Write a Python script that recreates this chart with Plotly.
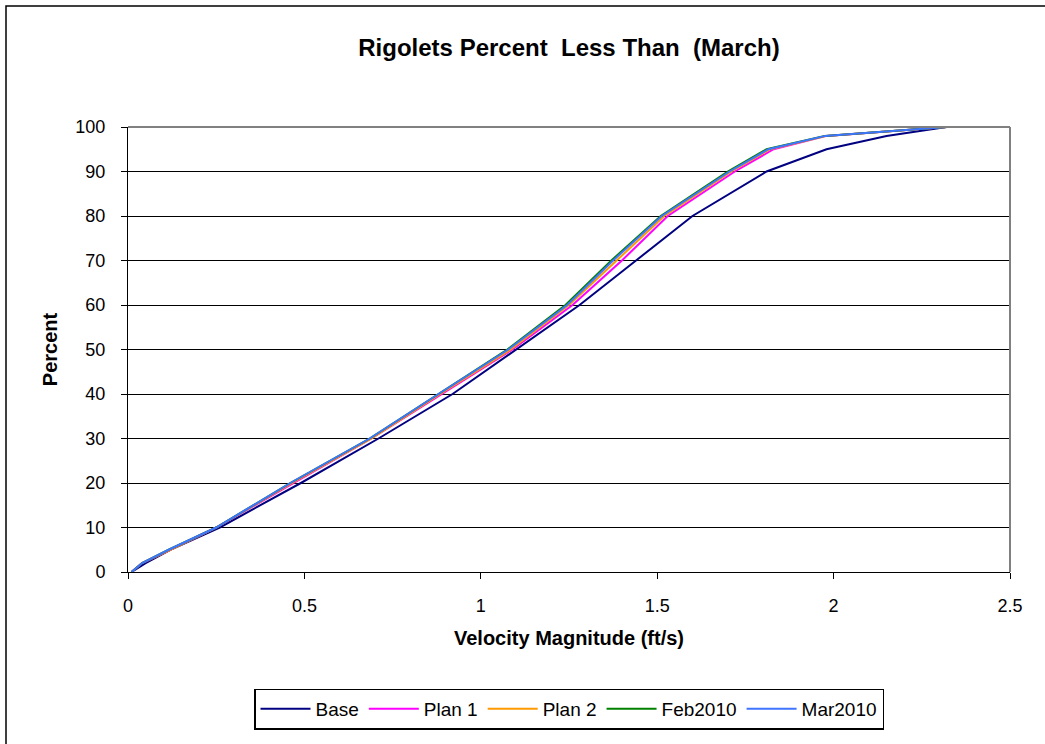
import plotly.graph_objects as go

percent = [0, 2, 5, 10, 20, 30, 40, 50, 60, 70, 80, 90, 95, 98, 100]

base = [0.01, 0.05, 0.12, 0.26, 0.49, 0.71, 0.92, 1.10, 1.28, 1.44, 1.60, 1.81, 1.98, 2.15, 2.32]
plan1 = [0.01, 0.04, 0.12, 0.25, 0.47, 0.69, 0.89, 1.09, 1.26, 1.40, 1.53, 1.72, 1.83, 1.98, 2.32]
plan2 = [0.01, 0.04, 0.12, 0.25, 0.465, 0.69, 0.885, 1.085, 1.25, 1.385, 1.52, 1.71, 1.82, 1.98, 2.32]
feb2010 = [0.01, 0.04, 0.115, 0.25, 0.46, 0.685, 0.88, 1.075, 1.24, 1.37, 1.51, 1.70, 1.81, 1.975, 2.32]
mar2010 = [0.01, 0.04, 0.115, 0.25, 0.46, 0.685, 0.88, 1.078, 1.245, 1.375, 1.513, 1.705, 1.815, 1.976, 2.32]

names = ["Base", "Plan 1", "Plan 2", "Feb2010", "Mar2010"]
colors = ["#000080", "#FF00FF", "#FF9900", "#008000", "#3F74FF"]
series = [base, plan1, plan2, feb2010, mar2010]

FONT = "Liberation Sans, Arial, sans-serif"

fig = go.Figure()
for name, color, xs in zip(names, colors, series):
    fig.add_trace(go.Scatter(x=xs, y=percent, mode="lines", name=name,
                             line=dict(color=color, width=2)))

W, H = 1045, 744
L, R, T, B = 128, 1010, 127, 572
pw, ph = R - L, B - T

def px(xp):
    return (xp - L) / pw

def py(yp):
    return (B - yp) / ph

fig.update_layout(
    width=W, height=H,
    margin=dict(l=L, r=W - R, t=T, b=H - B),
    paper_bgcolor="white", plot_bgcolor="white",
    font=dict(family=FONT, size=18, color="black"),
    title=dict(text="<b>Rigolets Percent\u00a0 Less Than\u00a0 (March)</b>",
               x=0.5, xref="paper", xanchor="center",
               y=1 - 48 / H, yanchor="middle",
               font=dict(family=FONT, size=24, color="black")),
    xaxis=dict(range=[0, 2.5], dtick=0.5, tick0=0, showgrid=False,
               showline=True, linecolor="black", linewidth=1,
               ticks="outside", ticklen=6, tickcolor="black",
               ticklabelstandoff=11,
               zeroline=False, fixedrange=True,
               tickfont=dict(size=18),
               title=dict(text="<b>Velocity Magnitude (ft/s)</b>", standoff=16,
                          font=dict(size=20))),
    yaxis=dict(range=[0, 100], dtick=10, tick0=0, showgrid=True,
               gridcolor="black", gridwidth=1,
               showline=True, linecolor="black", linewidth=1,
               ticks="outside", ticklen=6, tickcolor="black",
               ticklabelstandoff=12,
               zeroline=False, fixedrange=True,
               tickfont=dict(size=18),
               title=dict(text="<b>Percent</b>", standoff=12,
                          font=dict(size=20))),
    legend=dict(orientation="h", x=0.5, xanchor="center",
                y=py(709), yanchor="middle",
                bordercolor="black", borderwidth=1.5, bgcolor="white",
                font=dict(size=19), itemwidth=50, tracegroupgap=0),
    showlegend=True,
)

shapes = [
    # outer chart border (right and bottom fall outside the image)
    dict(type="rect", xref="paper", yref="paper",
         x0=px(6), x1=px(1060), y0=py(760), y1=py(6),
         line=dict(color="black", width=1.5), layer="below"),
    # plot-area border top and right (gray)
    dict(type="line", xref="paper", yref="paper", x0=0, x1=1, y0=1, y1=1,
         line=dict(color="#808080", width=2)),
    dict(type="line", xref="paper", yref="paper", x0=1, x1=1, y0=0, y1=1,
         line=dict(color="#808080", width=2)),
]
fig.update_layout(shapes=shapes)

fig.write_html("out.html",
               config={"displayModeBar": False, "staticPlot": True},
               post_script="document.body.style.margin='0';document.body.style.overflow='hidden';")
